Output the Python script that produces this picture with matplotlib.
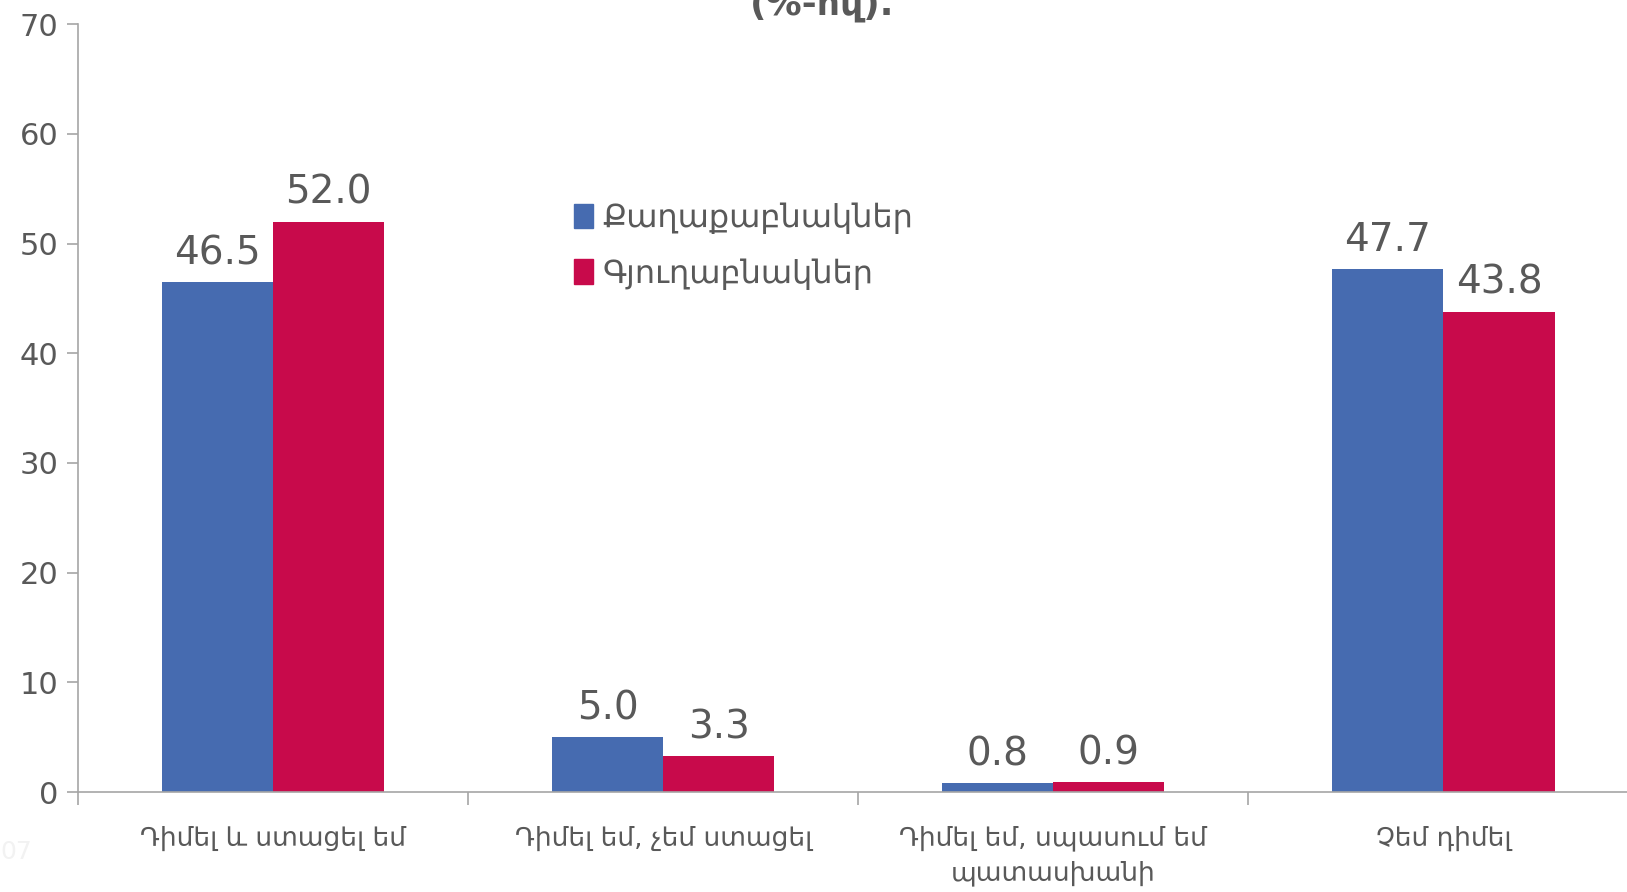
import numpy as np
import matplotlib
matplotlib.use("Agg")
import matplotlib.pyplot as plt
from matplotlib.patches import Patch

plt.rcParams['font.family'] = ['DejaVu Sans']

# data
categories = ["Դիմել և ստացել եմ", "Դիմել եմ, չեմ ստացել",
              "Դիմել եմ, սպասում եմ\nպատասխանի", "Չեմ դիմել"]
series_names = ["Քաղաքաբնակներ", "Գյուղաբնակներ"]
urban = [46.5, 5.0, 0.8, 47.7]
rural = [52.0, 3.3, 0.9, 43.8]

blue = "#466BB0"
red = "#C80A4B"
txt = "#595959"
axc = "#A6A6A6"

fig = plt.figure(figsize=(16.27, 8.92), dpi=100)
ax = fig.add_axes([0.048, 0.112, 0.959, 0.861])

x = np.arange(len(categories))
w = 0.285
b1 = ax.bar(x - w / 2, urban, w, color=blue)
b2 = ax.bar(x + w / 2, rural, w, color=red)

for bars, vals in ((b1, urban), (b2, rural)):
    for r, v in zip(bars, vals):
        ax.text(r.get_x() + r.get_width() / 2, v + 0.9, f"{v:.1f}",
                ha="center", va="bottom", fontsize=28, color=txt)

ax.set_xlim(-0.5, len(categories) - 0.5)
ax.set_ylim(0, 70)
ax.set_yticks(range(0, 71, 10))
ax.tick_params(axis="y", labelsize=22, colors=txt, color=axc, length=8, width=1.2, pad=6)

ax.set_xticks(np.arange(-0.5, len(categories), 1.0))
ax.set_xticklabels([])
ax.tick_params(axis="x", which="major", color=axc, length=9, width=1.2, direction="out")
ax.set_xticks(x, minor=True)
ax.set_xticklabels(categories, minor=True, fontsize=19, color=txt, linespacing=1.45)
ax.tick_params(axis="x", which="minor", length=0, pad=24)

for s in ("top", "right"):
    ax.spines[s].set_visible(False)
for s in ("left", "bottom"):
    ax.spines[s].set_color(axc)
    ax.spines[s].set_linewidth(1.2)

handles = [Patch(color=blue), Patch(color=red)]
fig.legend(handles, series_names, loc="upper left", bbox_to_anchor=(0.335, 0.805),
           frameon=False, fontsize=23, handlelength=0.6, handleheight=0.8,
           handletextpad=0.3, labelspacing=0.75, labelcolor=txt)

fig.text(0.505, 0.995, "(%-ով).", ha="center", va="center", fontsize=26,
         fontweight="bold", color=txt)
fig.text(0.0, 0.045, "07", ha="left", va="center", fontsize=18, color="#F2F2F2")

fig.savefig("out.png", dpi=100)
